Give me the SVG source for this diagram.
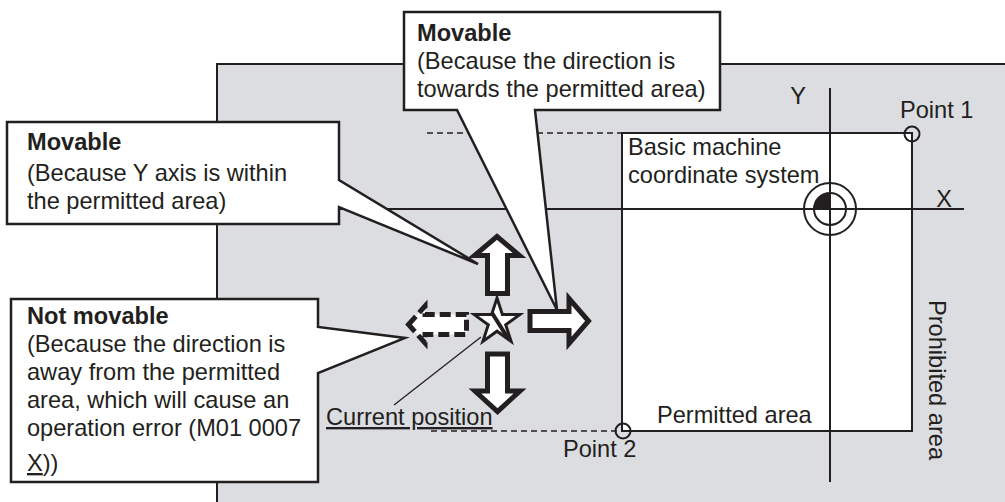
<svg xmlns="http://www.w3.org/2000/svg" width="1005" height="502" viewBox="0 0 1005 502">
<style>
text{font-family:"Liberation Sans",Arial,sans-serif;fill:#231f20;font-size:23.6px}
.b{font-weight:bold}
.ln{stroke:#231f20;stroke-width:2;fill:none}
.dash{stroke:#231f20;stroke-width:1.5;fill:none;stroke-dasharray:6 4}
.call{fill:#fff;stroke:#231f20;stroke-width:2.5;stroke-linejoin:miter}
.arr{fill:#fff;stroke:#231f20;stroke-width:5;stroke-linejoin:miter}
</style>
<defs>
<clipPath id="starclip"><polygon points="497,298 502.4,314.6 519.8,314.6 505.7,324.8 511.1,341.4 497,331.2 482.9,341.4 488.3,324.8 474.2,314.6 491.6,314.6"/></clipPath>
</defs>
<rect width="1005" height="502" fill="#fff"/>
<g id="background">
<rect x="217" y="64" width="790" height="440" fill="#dcdde0"/>
<path class="ln" d="M217,503 V64 H1006"/>
</g>
<g id="permitted-area">
<rect x="622" y="133" width="290" height="298" fill="#fff" stroke="#231f20" stroke-width="2"/>
<text x="657" y="423">Permitted area</text>
</g>
<g id="connectors">
<line class="dash" x1="427" y1="133" x2="622" y2="133"/>
<line class="dash" x1="431" y1="431" x2="622" y2="431"/>
<line class="ln" x1="217" y1="209" x2="964" y2="209"/>
<line class="ln" x1="830" y1="88" x2="830" y2="482"/>
<line stroke="#231f20" stroke-width="1.3" x1="481" y1="337" x2="394" y2="405"/>
</g>
<g id="axes-labels">
<text x="798" y="104" text-anchor="middle">Y</text>
<text x="944" y="207" text-anchor="middle">X</text>
</g>
<g id="basic-machine">
<text x="628" y="155">Basic machine</text>
<text x="628" y="183">coordinate system</text>
<circle cx="830" cy="209" r="26" class="ln"/>
<circle cx="830" cy="209" r="16" class="ln"/>
<path d="M830,209 H814.5 A15.5,15.5 0 0 1 830,193.5 Z" fill="#231f20"/>
</g>
<g id="point1">
<circle cx="912" cy="134" r="7.5" fill="none" stroke="#231f20" stroke-width="2"/>
<text x="900" y="118">Point 1</text>
</g>
<g id="point2">
<circle cx="623" cy="431" r="7.5" fill="none" stroke="#231f20" stroke-width="2"/>
<text x="563" y="457">Point 2</text>
</g>
<g id="prohibited">
<text transform="translate(929,300) rotate(90)">Prohibited area</text>
</g>
<g id="current-position">
<polygon points="497,298 502.4,314.6 519.8,314.6 505.7,324.8 511.1,341.4 497,331.2 482.9,341.4 488.3,324.8 474.2,314.6 491.6,314.6" fill="#fff" stroke="#231f20" stroke-width="3" stroke-linejoin="miter"/>
<line x1="487" y1="305" x2="509" y2="340" stroke="#231f20" stroke-width="4" clip-path="url(#starclip)"/>
<text x="326" y="425" text-decoration="underline">Current position</text>
</g>
<g id="arrow-up">
<polygon class="arr" points="497,236.5 519.5,255.5 507.5,255.5 507.5,293.5 487.5,293.5 487.5,255.5 474.5,255.5"/>
</g>
<g id="arrow-down">
<polygon class="arr" points="487.5,354 507.5,354 507.5,391 520,391 497.5,411.5 475,391 487.5,391"/>
</g>
<g id="arrow-right">
<polygon class="arr" points="530,311.5 569,311.5 569,298.5 588.5,321 569,343.5 569,330.5 530,330.5"/>
</g>
<g id="arrow-left">
<polygon class="arr" points="408.5,324.5 425,306 425,314.5 466.5,314.5 466.5,334.5 425,334.5 425,343" stroke-dasharray="11 5"/>
</g>
<g id="callout-top">
<path class="call" d="M404,12 H720 V110 H535 L557,310 L457,110 H404 Z"/>
<text class="b" x="417" y="41">Movable</text>
<text x="417" y="69">(Because the direction is</text>
<text x="417" y="97">towards the permitted area)</text>
</g>
<g id="callout-y">
<path class="call" d="M7,122 H339 V180 L478,264 L339,207 V224 H7 Z"/>
<text class="b" x="27" y="150">Movable</text>
<text x="27" y="181">(Because Y axis is within</text>
<text x="27" y="209">the permitted area)</text>
</g>
<g id="callout-not">
<path class="call" d="M11,299 H318 V327 L405,338 L318,373 V482 H11 Z"/>
<text class="b" x="27" y="324">Not movable</text>
<text x="27" y="352">(Because the direction is</text>
<text x="27" y="380">away from the permitted</text>
<text x="27" y="408">area, which will cause an</text>
<text x="27" y="436">operation error (M01 0007</text>
<text x="27" y="471"><tspan text-decoration="underline">X</tspan>))</text>
</g>
</svg>
